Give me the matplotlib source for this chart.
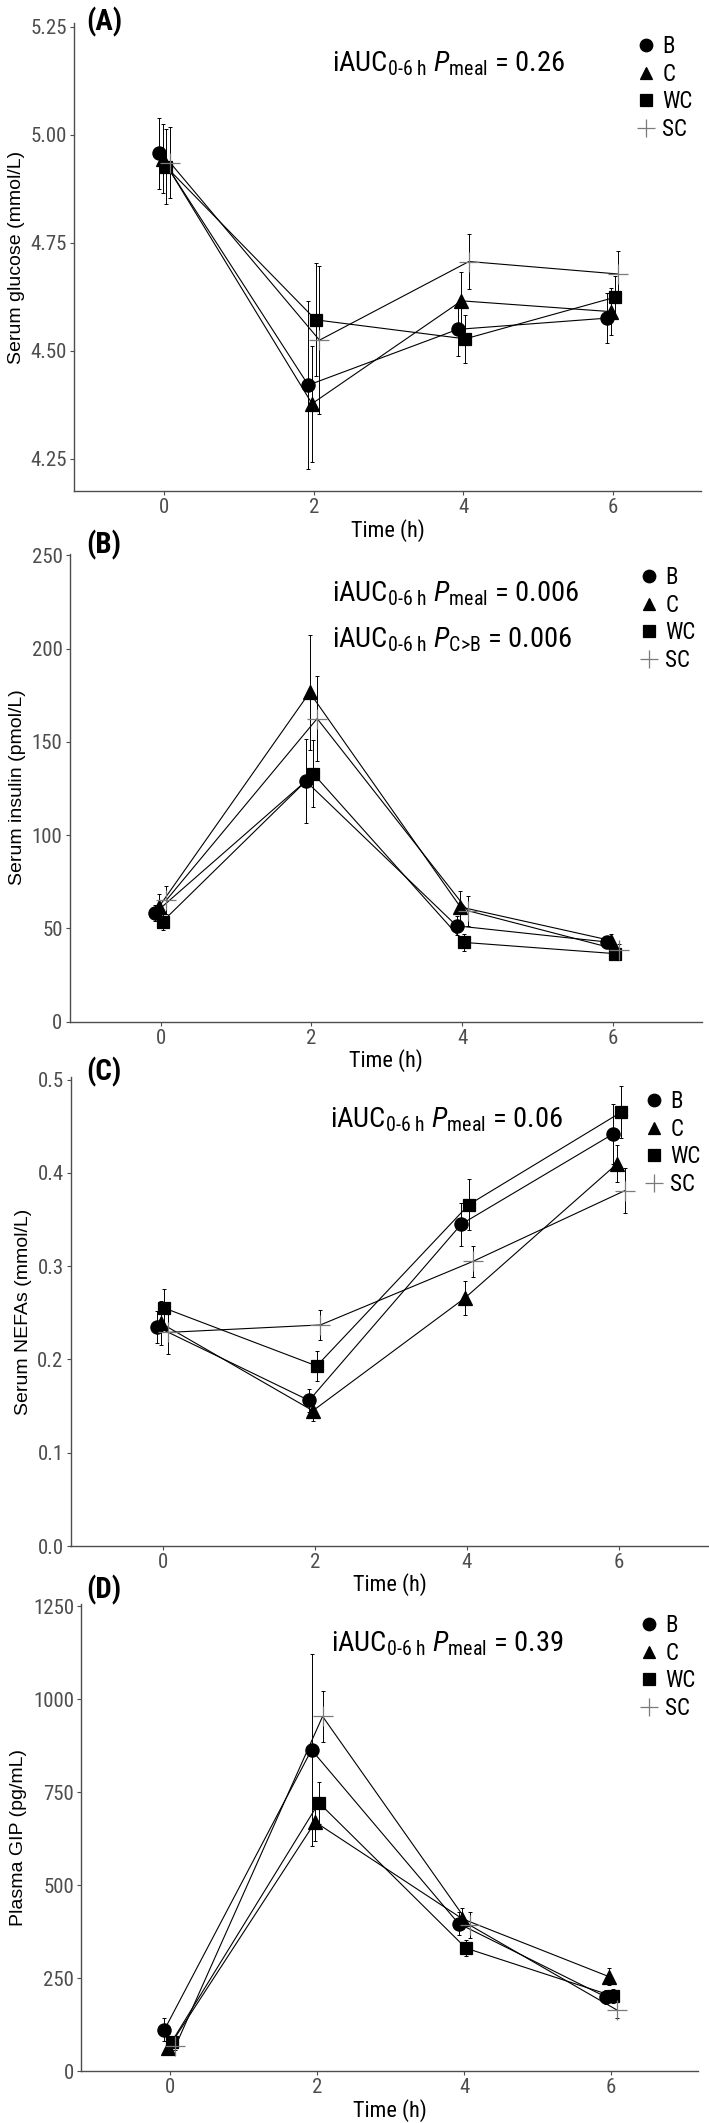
import matplotlib
matplotlib.use('Agg')
import matplotlib.pyplot as plt
from matplotlib.font_manager import fontManager
from matplotlib.lines import Line2D


def pick(prefs, weight=400):
    for p in prefs:
        for f in fontManager.ttflist:
            if f.name == p and f.style == 'normal' and f.weight == weight:
                return p
    return 'DejaVu Sans'

narrow = pick(['Liberation Sans Narrow', 'Roboto Condensed', 'Archivo Narrow',
               'Encode Sans Condensed', 'IBM Plex Sans Condensed'])
narrow_bold = pick([narrow, 'Liberation Sans Narrow', 'Roboto Condensed',
                    'Encode Sans Condensed', 'IBM Plex Sans Condensed'], 700)
regular = pick(['Liberation Sans', 'Arimo'])

plt.rcParams['font.family'] = [narrow, 'DejaVu Sans']
plt.rcParams['mathtext.fontset'] = 'custom'
plt.rcParams['mathtext.rm'] = narrow
plt.rcParams['mathtext.it'] = narrow + ':italic'

# data: mean and SE per meal (rows: B, C, WC, SC), columns = time points
time = [0, 2, 4, 6]
meals = ['B', 'C', 'WC', 'SC']

glucose_mean = [[4.957, 4.421, 4.550, 4.576],
                [4.945, 4.378, 4.616, 4.591],
                [4.926, 4.572, 4.528, 4.624],
                [4.936, 4.525, 4.707, 4.678]]
glucose_se = [[0.083, 0.194, 0.061, 0.057],
              [0.080, 0.134, 0.067, 0.054],
              [0.087, 0.131, 0.055, 0.050],
              [0.083, 0.171, 0.064, 0.053]]

insulin_mean = [[58.3, 129.0, 51.4, 42.7],
                [61.5, 176.5, 61.5, 43.5],
                [53.7, 132.9, 42.5, 36.5],
                [65.2, 162.5, 59.5, 38.5]]
insulin_se = [[4.5, 22.5, 5.0, 3.0],
              [7.0, 30.6, 8.5, 3.5],
              [4.5, 17.9, 4.5, 3.0],
              [7.5, 23.0, 8.0, 3.0]]

nefa_mean = [[0.235, 0.156, 0.345, 0.442],
             [0.239, 0.145, 0.266, 0.410],
             [0.255, 0.193, 0.366, 0.465],
             [0.229, 0.237, 0.305, 0.381]]
nefa_se = [[0.017, 0.012, 0.023, 0.032],
           [0.024, 0.011, 0.018, 0.020],
           [0.020, 0.016, 0.027, 0.028],
           [0.023, 0.016, 0.017, 0.024]]

gip_mean = [[112, 864, 397, 200],
            [62, 670, 410, 254],
            [80, 722, 331, 202],
            [68, 954, 393, 165]]
gip_se = [[30, 258, 31, 18],
          [15, 50, 28, 23],
          [15, 56, 22, 18],
          [12, 68, 36, 22]]

W, H = 709, 2123
fig = plt.figure(figsize=(W / 100, H / 100), dpi=100)

def fx(px):
    return px / W

def fy(py):
    return 1 - py / H

markers = ['o', '^', 's', '+']
msizes = [9.5, 9.5, 9, 14]
mcolors = ['black', 'black', 'black', '#7a7a7a']
offsets = [-0.075, -0.025, 0.025, 0.075]
axis_col = '#4d4d4d'

def panel(box, means, ses, ylim, yticks, fmt, ylabel, label, label_y,
          notes, note_x, leg_x, leg_y):
    left, top, right, bottom = box
    ax = fig.add_axes([fx(left), fy(bottom), fx(right) - fx(left), fy(top) - fy(bottom)])
    for i in range(4):
        xs = [t + offsets[i] for t in time]
        ax.errorbar(xs, means[i], yerr=ses[i], fmt='none', ecolor='black',
                    elinewidth=0.7, capsize=1.2, capthick=0.7, zorder=2)
        ax.plot(xs, means[i], color='black', lw=0.8, zorder=3)
        ax.plot(xs, means[i], ls='none', marker=markers[i], ms=msizes[i],
                color=mcolors[i], mew=0.9, zorder=4)
    ax.set_xlim(-1.21, 7.18)
    ax.set_ylim(*ylim)
    ax.set_xticks(time)
    ax.set_yticks(yticks)
    ax.set_yticklabels([fmt % v for v in yticks])
    for s in ['top', 'right']:
        ax.spines[s].set_visible(False)
    for s in ['left', 'bottom']:
        ax.spines[s].set_color(axis_col)
        ax.spines[s].set_linewidth(1.0)
    ax.tick_params(colors=axis_col, labelcolor='#4d4d4d', labelsize=15,
                   length=3, width=0.8, pad=2)
    ax.set_xlabel('Time (h)', fontsize=16, color='black', labelpad=1)
    ax.set_ylabel(ylabel, fontsize=14, family=regular, color='black', labelpad=4)

    fig.text(fx(86), fy(label_y), label, fontsize=21, family=narrow_bold,
             fontweight='bold', ha='left', va='center')
    for txt, ny in notes:
        fig.text(fx(note_x), fy(ny), txt, fontsize=20.5, ha='left', va='center')

    handles = [Line2D([], [], ls='none', marker=markers[i], ms=msizes[i] * 0.95,
                      color=mcolors[i], mew=0.9) for i in range(4)]
    ax.legend(handles, meals, loc='upper left', bbox_to_anchor=(fx(leg_x), fy(leg_y)),
              bbox_transform=fig.transFigure, frameon=False, fontsize=16.5,
              handlelength=0.75, handletextpad=0.35, labelspacing=0.2,
              borderpad=0, borderaxespad=0)
    return ax

auc = r'iAUC$_{\text{0-6 h}}$ '

panel((74, 23.4, 701, 491.4), glucose_mean, glucose_se, (4.175, 5.258),
      [4.25, 4.50, 4.75, 5.00, 5.25], '%.2f', 'Serum glucose (mmol/L)',
      '(A)', 21.5, [(auc + r'$P_{\text{meal}}$ = 0.26', 64)], 332, 637, 35)

panel((69.5, 553.5, 702, 1021.7), insulin_mean, insulin_se, (0, 251),
      [0, 50, 100, 150, 200, 250], '%d', 'Serum insulin (pmol/L)',
      '(B)', 544.5, [(auc + r'$P_{\text{meal}}$ = 0.006', 594),
                     (auc + r'$P_{\text{C>B}}$ = 0.006', 640)], 332, 640, 566)

panel((70.5, 1076.8, 709, 1546), nefa_mean, nefa_se, (0, 0.503),
      [0.0, 0.1, 0.2, 0.3, 0.4, 0.5], '%.1f', 'Serum NEFAs (mmol/L)',
      '(C)', 1071.5, [(auc + r'$P_{\text{meal}}$ = 0.06', 1120)], 330, 645, 1090)

panel((81, 1604.4, 698, 2071.3), gip_mean, gip_se, (0, 1255),
      [0, 250, 500, 750, 1000, 1250], '%d', 'Plasma GIP (pg/mL)',
      '(D)', 1590, [(auc + r'$P_{\text{meal}}$ = 0.39', 1644)], 331, 640, 1614)

fig.savefig('out.png', dpi=100, facecolor='white')
